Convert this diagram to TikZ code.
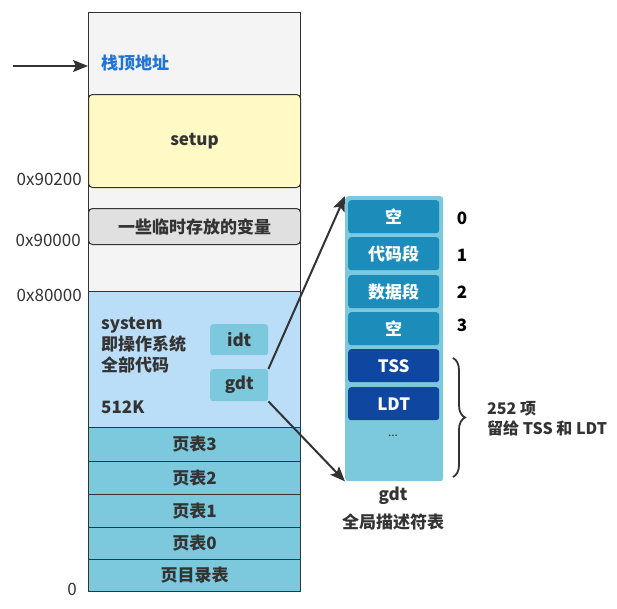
\documentclass[tikz,border=0pt]{standalone}
\usepackage{fontspec}
\setmainfont{Noto Sans CJK SC}
\usetikzlibrary{arrows.meta,decorations.pathreplacing}
\definecolor{stackgray}{HTML}{F4F4F4}
\definecolor{setupyellow}{HTML}{FFF9C6}
\definecolor{vargray}{HTML}{E0E0E0}
\definecolor{syslight}{HTML}{BBDEF8}
\definecolor{tabteal}{HTML}{7CC8DD}
\definecolor{segteal}{HTML}{1C8CBA}
\definecolor{segblue}{HTML}{0E46A0}
\definecolor{linegray}{HTML}{333333}
\definecolor{topblue}{HTML}{1F74D6}
\tikzset{
  memcell/.style={draw=linegray, line width=1pt, anchor=north west, minimum width=212pt, inner sep=0pt, text=linegray, font=\bfseries\fontsize{17}{20}\selectfont},
  segcell/.style={anchor=north west, minimum width=91pt, minimum height=33pt, rounded corners=3pt, inner sep=0pt, text=white, font=\bfseries\fontsize{17}{20}\selectfont},
  tagcell/.style={anchor=north west, fill=tabteal, minimum width=58pt, rounded corners=3pt, inner sep=0pt, text=linegray, font=\bfseries\fontsize{17}{20}\selectfont},
  addr/.style={anchor=east, text=linegray, inner sep=0pt, font=\fontsize{17}{20}\selectfont},
  lbl/.style={text=linegray, font=\bfseries\fontsize{17}{20}\selectfont},
  link/.style={draw=linegray, line width=2pt, -{Stealth[length=15pt,width=12pt,inset=3pt]}}
}
\begin{document}
\begin{tikzpicture}[x=1pt,y=-1pt]
  \useasboundingbox (0,0) rectangle (617,608);
  % memory column
  \node[memcell, fill=stackgray, minimum height=279pt] (stack) at (88,12) {};
  \node[memcell, fill=setupyellow, minimum height=93pt, rounded corners=4pt] (setup) at (88,94) {setup};
  \node[memcell, fill=vargray, minimum height=36pt, rounded corners=4pt] (vars) at (88,208) {一些临时存放的变量};
  \node[memcell, fill=syslight, minimum height=136pt] (system) at (88,291) {};
  \node[memcell, fill=tabteal, minimum height=34pt] (pt3) at (88,427) {页表3};
  \node[memcell, fill=tabteal, minimum height=33pt] (pt2) at (88,461) {页表2};
  \node[memcell, fill=tabteal, minimum height=33pt] (pt1) at (88,494) {页表1};
  \node[memcell, fill=tabteal, minimum height=32pt] (pt0) at (88,527) {页表0};
  \node[memcell, fill=tabteal, minimum height=32pt] (pdir) at (88,559) {页目录表};
  \node[lbl, text=topblue, anchor=west, inner sep=0pt] (sptext) at (101,63) {栈顶地址};
  \node[lbl, anchor=north west, align=left, inner sep=0pt, font=\bfseries\fontsize{17}{21}\selectfont] (systext) at (101,317) {system\\即操作系统\\全部代码\\[21pt]512K};
  \node[tagcell, minimum height=31pt] (idt) at (210,324) {idt};
  \node[tagcell, minimum height=32pt] (gdt) at (210,369) {gdt};
  % addresses
  \node[addr] (a90200) at (82,179) {0x90200};
  \node[addr] (a90000) at (81,240) {0x90000};
  \node[addr] (a80000) at (82,295) {0x80000};
  \node[addr] (azero) at (77,589) {0};
  \coordinate (sptail) at (13,66);
  \coordinate (sptip) at (88,66);
  \draw[link] (sptail) -- (sptip);
  % gdt table
  \node[anchor=north west, fill=tabteal, minimum width=98pt, minimum height=285pt, rounded corners=3pt] (gdtcol) at (345,196) {};
  \node[segcell, fill=segteal] (s0) at (348,200) {空};
  \node[segcell, fill=segteal] (s1) at (348,237) {代码段};
  \node[segcell, fill=segteal] (s2) at (348,275) {数据段};
  \node[segcell, fill=segteal] (s3) at (348,312) {空};
  \node[segcell, fill=segblue] (tss) at (348,349) {TSS};
  \node[segcell, fill=segblue] (ldt) at (348,387) {LDT};
  \node[text=linegray, font=\fontsize{12}{14}\selectfont] (dots) at (393,436) {...};
  \node[lbl, text=black] (n0) at (462,218) {0};
  \node[lbl, text=black] (n1) at (462,255) {1};
  \node[lbl, text=black] (n2) at (462,292) {2};
  \node[lbl, text=black] (n3) at (462,325) {3};
  \coordinate (bracetop) at (453,358);
  \coordinate (bracebot) at (453,477);
  \draw[linegray, line width=1.8pt, decorate, decoration={brace, amplitude=12pt}] (bracetop) -- (bracebot);
  \node[lbl, anchor=west, align=left, inner sep=0pt, font=\bfseries\fontsize{16}{20}\selectfont] (resv) at (487,419) {252 项\\留给 TSS 和 LDT};
  \node[lbl] (gdtname) at (393,496) {gdt};
  \node[lbl] (gdtfull) at (393,522) {全局描述符表};
  \draw[link] (gdt.north east) -- (gdtcol.north west);
  \draw[link] (gdt.south east) -- (gdtcol.south west);
\end{tikzpicture}
\end{document}
